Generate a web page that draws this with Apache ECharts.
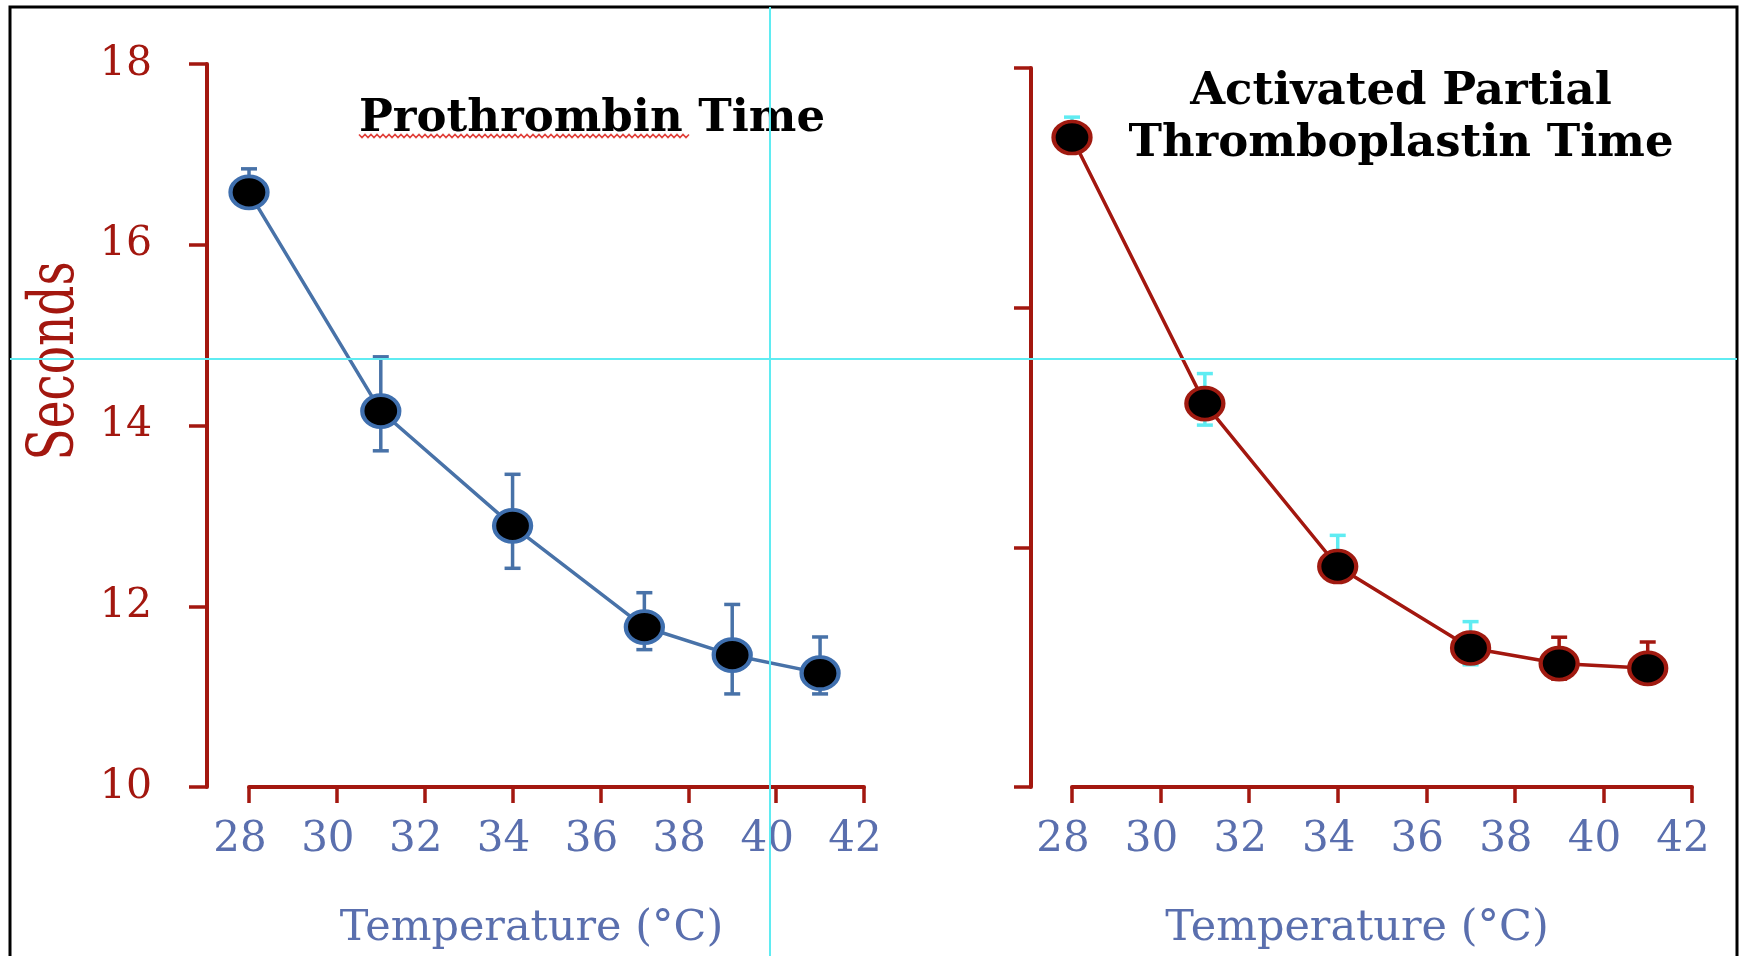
<!DOCTYPE html>
<html>
<head>
<meta charset="utf-8">
<title>Prothrombin / APTT vs temperature</title>
<script src="https://cdn.jsdelivr.net/npm/echarts@6.0.0/dist/echarts.min.js"></script>
<style>
  html, body { margin: 0; padding: 0; background: #fff; }
  #main { width: 1739px; height: 956px; }
</style>
</head>
<body>
<div id="main"></div>
<script>
// temperatures (°C)
var tempsPT = [28, 31, 34, 37, 39, 41];
var tempsAPTT = [28, 31, 34, 37, 39, 41];

// prothrombin time (s): mean, upper and lower error bar ends
var ptMean = [16.58, 14.16, 12.89, 11.77, 11.46, 11.26];
var ptHigh = [16.84, 14.76, 13.46, 12.15, 12.02, 11.66];
var ptLow  = [16.42, 13.72, 12.42, 11.52, 11.03, 11.03];

// activated partial thromboplastin time (right axis has no labels)
var apttMean = [74.2, 52.0, 38.4, 31.6, 30.3, 29.9];
var apttHigh = [75.9, 54.5, 41.0, 33.8, 32.5, 32.1];
var apttLow  = [73.0, 50.2, 37.2, 30.2, 29.0, 28.7];

var xTickRange = [28, 42, 2];
var ptTickRange = [10, 18, 2];
var apttTickRange = [20, 80, 20];

var RED = '#a3170f';
var BLUE_TXT = '#5a6fae';
var BLUE_LINE = '#4872a8';
var CYAN = '#5fecf2';
var SERIF = '"DejaVu Serif", serif';

var myChart = echarts.init(document.getElementById('main'));

function errorBars(getColor) {
    return function (params, api) {
        var x = api.value(0);
        var top = api.coord([x, api.value(1)]);
        var bot = api.coord([x, api.value(2)]);
        var hw = 8;
        var st = { stroke: getColor(params.dataIndex), lineWidth: 3.5 };
        return {
            type: 'group',
            children: [
                { type: 'line', shape: { x1: top[0], y1: top[1], x2: bot[0], y2: bot[1] }, style: st },
                { type: 'line', shape: { x1: top[0] - hw, y1: top[1], x2: top[0] + hw, y2: top[1] }, style: st },
                { type: 'line', shape: { x1: bot[0] - hw, y1: bot[1], x2: bot[0] + hw, y2: bot[1] }, style: st }
            ]
        };
    };
}

function xAxisCfg(idx) {
    return {
        gridIndex: idx,
        type: 'value',
        min: xTickRange[0], max: xTickRange[1], interval: xTickRange[2],
        name: 'Temperature (°C)',
        nameLocation: 'middle',
        nameGap: 120,
        nameTextStyle: { color: BLUE_TXT, fontFamily: SERIF, fontSize: 43, padding: [0, 50, 0, 0] },
        axisLine: { show: true, lineStyle: { color: RED, width: 4 } },
        axisTick: { show: true, length: 16, lineStyle: { color: RED, width: 3.5 } },
        axisLabel: { color: BLUE_TXT, fontFamily: SERIF, fontSize: 42, margin: 32, padding: [0, 18, 0, 0] },
        splitLine: { show: false }
    };
}

// wavy spell-check underline under "Prothrombin"
var squiggle = [];
for (var sx = 359; sx <= 689; sx += 3) {
    squiggle.push([sx, 136 + ((sx - 359) / 3 % 2 === 0 ? -1.5 : 1.5)]);
}

var titleStyle = {
    fill: '#000',
    fontFamily: SERIF,
    fontWeight: 'bold',
    fontSize: 45,
    align: 'center',
    verticalAlign: 'middle',
    shadowColor: 'rgba(0,0,0,0.4)',
    shadowBlur: 3,
    shadowOffsetX: 2,
    shadowOffsetY: 2
};

var option = {
    animation: false,
    backgroundColor: '#fff',
    grid: [
        { left: 249, top: 64, width: 615, height: 723 },
        { left: 1072, top: 68, width: 620, height: 719 }
    ],
    xAxis: [xAxisCfg(0), xAxisCfg(1)],
    yAxis: [
        {
            gridIndex: 0, type: 'value',
            min: ptTickRange[0], max: ptTickRange[1], interval: ptTickRange[2],
            offset: 42,
            axisLine: { show: true, lineStyle: { color: RED, width: 4 } },
            axisTick: { show: true, length: 18, lineStyle: { color: RED, width: 3.5 } },
            axisLabel: { color: RED, fontFamily: SERIF, fontSize: 41, margin: 55 },
            splitLine: { show: false }
        },
        {
            gridIndex: 1, type: 'value',
            min: apttTickRange[0], max: apttTickRange[1], interval: apttTickRange[2],
            offset: 41,
            axisLine: { show: true, lineStyle: { color: RED, width: 4 } },
            axisTick: { show: true, length: 17, lineStyle: { color: RED, width: 3.5 } },
            axisLabel: { show: false },
            splitLine: { show: false }
        }
    ],
    series: [
        {
            type: 'custom', name: 'PT error',
            xAxisIndex: 0, yAxisIndex: 0,
            renderItem: errorBars(function () { return BLUE_LINE; }),
            encode: { x: 0, y: [1, 2] },
            data: tempsPT.map(function (t, i) { return [t, ptHigh[i], ptLow[i]]; }),
            z: 2
        },
        {
            type: 'line', name: 'Prothrombin Time',
            xAxisIndex: 0, yAxisIndex: 0,
            data: tempsPT.map(function (t, i) { return [t, ptMean[i]]; }),
            lineStyle: { color: BLUE_LINE, width: 3.5 },
            symbol: 'circle', symbolSize: [37, 32],
            itemStyle: { color: '#000', borderColor: '#3f6fae', borderWidth: 4 },
            z: 3
        },
        {
            type: 'custom', name: 'APTT error',
            xAxisIndex: 1, yAxisIndex: 1,
            renderItem: errorBars(function (i) { return i < 4 ? CYAN : RED; }),
            encode: { x: 0, y: [1, 2] },
            data: tempsAPTT.map(function (t, i) { return [t, apttHigh[i], apttLow[i]]; }),
            z: 2
        },
        {
            type: 'line', name: 'Activated Partial Thromboplastin Time',
            xAxisIndex: 1, yAxisIndex: 1,
            data: tempsAPTT.map(function (t, i) { return [t, apttMean[i]]; }),
            lineStyle: { color: RED, width: 3.5 },
            symbol: 'circle', symbolSize: [37, 32],
            itemStyle: { color: '#000', borderColor: '#a01a10', borderWidth: 4 },
            z: 3
        }
    ],
    graphic: [
        { type: 'rect', shape: { x: 10, y: 7, width: 1727, height: 980 }, style: { fill: null, stroke: '#000', lineWidth: 3 }, z: 0 },
        { type: 'text', x: 592, y: 119, style: Object.assign({ text: 'Prothrombin Time' }, titleStyle), z: 10 },
        { type: 'text', x: 1401, y: 118, style: Object.assign({ text: 'Activated Partial\nThromboplastin Time', lineHeight: 52 }, titleStyle), z: 10 },
        { type: 'polyline', shape: { points: squiggle }, style: { stroke: '#e0403a', lineWidth: 1.6, fill: null }, z: 10 },
        {
            type: 'text', x: 57, y: 361, rotation: Math.PI / 2, scaleY: 1.35,
            style: { text: 'Seconds', fill: RED, fontFamily: SERIF, fontSize: 47, align: 'center', verticalAlign: 'middle' },
            z: 10
        },
        { type: 'line', shape: { x1: 770, y1: 7, x2: 770, y2: 956 }, style: { stroke: CYAN, lineWidth: 2 }, z: 100 },
        { type: 'line', shape: { x1: 10, y1: 359, x2: 1737, y2: 359 }, style: { stroke: CYAN, lineWidth: 2 }, z: 100 }
    ]
};
myChart.setOption(option);
</script>
</body>
</html>
